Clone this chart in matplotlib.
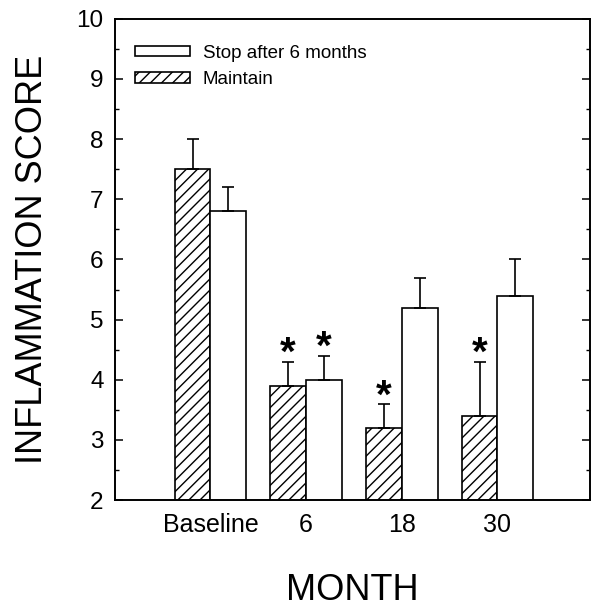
import numpy as np
import matplotlib
matplotlib.use('Agg')
import matplotlib.pyplot as plt
from matplotlib.ticker import MultipleLocator
from matplotlib.patches import Patch

plt.rcParams['font.family'] = ['Liberation Sans', 'DejaVu Sans']
plt.rcParams['hatch.linewidth'] = 1.0
plt.rcParams['hatch.color'] = 'black'

# 데이터
months = ['Baseline', '6', '18', '30']
maintain = [7.5, 3.9, 3.2, 3.4]
maintain_err = [0.5, 0.4, 0.4, 0.9]
stop = [6.8, 4.0, 5.2, 5.4]
stop_err = [0.4, 0.4, 0.5, 0.6]
maintain_sig = [False, True, True, True]
stop_sig = [False, True, False, False]

x = np.arange(len(months))
w = 0.375

fig = plt.figure(figsize=(5.92, 6.07), dpi=100)
ax = fig.add_axes([0.194, 0.176, 0.803, 0.793])

bar_kw = dict(width=w, edgecolor='black', linewidth=1.2,
              error_kw=dict(ecolor='black', elinewidth=1.2, capsize=4.3, capthick=1.2))
ax.bar(x - w / 2, maintain, color='white', hatch='///',
       yerr=[[0] * len(x), maintain_err], **bar_kw)
ax.bar(x + w / 2, stop, color='white',
       yerr=[[0] * len(x), stop_err], **bar_kw)

# 유의성 표시
for xi, v, e, s in zip(x - w / 2, maintain, maintain_err, maintain_sig):
    if s:
        ax.annotate('*', (xi, v + e), xytext=(0, -2.5), textcoords='offset points',
                    ha='center', va='baseline', fontsize=29, fontweight='bold')
for xi, v, e, s in zip(x + w / 2, stop, stop_err, stop_sig):
    if s:
        ax.annotate('*', (xi, v + e), xytext=(0, -2.5), textcoords='offset points',
                    ha='center', va='baseline', fontsize=29, fontweight='bold')

ax.set_ylim(2, 10)
ax.set_xlim(-1, 3.97)
ax.set_xticks(x)
ax.set_xticklabels(months, fontsize=18)
ax.tick_params(axis='x', length=0, pad=9)
ax.yaxis.set_major_locator(MultipleLocator(1))
ax.yaxis.set_minor_locator(MultipleLocator(0.5))
ax.tick_params(axis='y', which='both', direction='in', left=True, right=True)
ax.tick_params(axis='y', which='major', length=6, width=1.1, labelsize=17.5, pad=8)
ax.tick_params(axis='y', which='minor', length=3, width=1.0)
for sp in ax.spines.values():
    sp.set_linewidth(1.4)

ax.set_ylabel('INFLAMMATION SCORE', fontsize=26)
ax.yaxis.set_label_coords(-0.136, 0.5)
ax.set_xlabel('MONTH', fontsize=26)
ax.xaxis.set_label_coords(0.5, -0.152)

handles = [Patch(facecolor='white', edgecolor='black', linewidth=1.2),
           Patch(facecolor='white', edgecolor='black', linewidth=1.2, hatch='///')]
ax.legend(handles, ['Stop after 6 months', 'Maintain'], loc='upper left',
          bbox_to_anchor=(0.042, 0.946), borderaxespad=0, borderpad=0,
          frameon=False, fontsize=13.5, handlelength=2.93, handleheight=0.5,
          handletextpad=0.7, labelspacing=0.5)

plt.savefig('out.png', dpi=100)
